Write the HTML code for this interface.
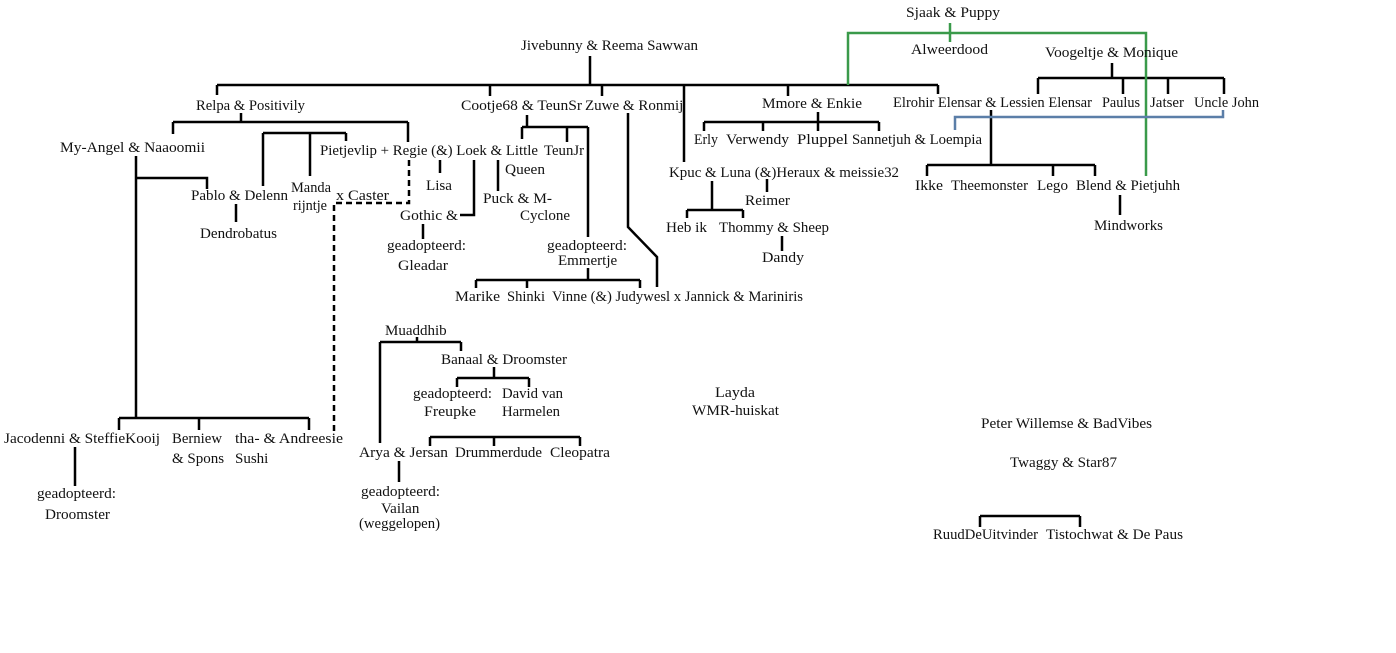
<!DOCTYPE html>
<html><head><meta charset="utf-8"><style>
html,body{margin:0;padding:0;background:#fff;}
svg{display:block;}
text{font-family:"Liberation Serif",serif;font-size:15px;fill:#111;}
</style></head><body>
<svg width="1396" height="653" viewBox="0 0 1396 653" xmlns="http://www.w3.org/2000/svg">
<g fill="none" stroke="#000" stroke-width="2.5">
<path d="M590 56V85M217 85H938M217 85V95M490 85V96M602 85V96M684 85V162M788 85V96M938 85V94"/>
<path d="M241 113V122M173 122H408M173 122V134M408 122V142"/>
<path d="M263 133H346M263 133V186M310 133V176M346 133V141"/>
<path d="M136 156V418M136 178H207V189M236 204V222"/>
<path d="M119 418H309M119 418V430M199 418V430M309 418V430M75 447V486"/>
<path d="M527 115V127M522 127H588M522 127V139M567 127V142M588 127V237"/>
<path d="M474 160V215H460M423 224V239M440 160V173M498 160V191"/>
<path d="M588 268V280M476 280H640M476 280V288M527 280V288M640 280V288"/>
<path d="M628 113V227L657 257V287"/>
<path d="M818 112V122M704 122H879M704 122V131M763 122V131M818 122V131M879 122V131"/>
<path d="M712 181V210M687 210H743M687 210V218M743 210V218M767 179V192M782 236V251"/>
<path d="M1112 63V78M1038 78H1224M1038 78V94M1123 78V94M1168 78V94M1224 78V94"/>
<path d="M991 110V165M927 165H1095M927 165V176M1053 165V176M1095 165V176M1120 195V215"/>
<path d="M417 337V342M380 342H461M461 342V351M380 342V443"/>
<path d="M494 367V378M457 378H529M457 378V387M529 378V387"/>
<path d="M430 437H580M430 437V446M494 437V446M580 437V446M399 461V482"/>
<path d="M980 516H1080M980 516V527M1080 516V527"/>
</g>
<path d="M409 160V203H334V432" fill="none" stroke="#000" stroke-width="2.5" stroke-dasharray="6,4"/>
<path d="M848 85V33H1146V176M950 23V42" fill="none" stroke="#3a9a4a" stroke-width="2.5"/>
<path d="M955 130V117H1223V110" fill="none" stroke="#5b7ea8" stroke-width="2.5"/>

<g>
<text x="906" y="17" textLength="94" lengthAdjust="spacingAndGlyphs">Sjaak &amp; Puppy</text>
<text x="911" y="54" textLength="77" lengthAdjust="spacingAndGlyphs">Alweerdood</text>
<text x="521" y="50" textLength="177" lengthAdjust="spacingAndGlyphs">Jivebunny &amp; Reema Sawwan</text>
<text x="1045" y="57" textLength="133" lengthAdjust="spacingAndGlyphs">Voogeltje &amp; Monique</text>
<text x="196" y="110" textLength="109" lengthAdjust="spacingAndGlyphs">Relpa &amp; Positivily</text>
<text x="461" y="110" textLength="121" lengthAdjust="spacingAndGlyphs">Cootje68 &amp; TeunSr</text>
<text x="585" y="110">Zuwe &amp; Ronmij</text>
<text x="762" y="108" textLength="100" lengthAdjust="spacingAndGlyphs">Mmore &amp; Enkie</text>
<text x="893" y="107" textLength="199" lengthAdjust="spacingAndGlyphs">Elrohir Elensar &amp; Lessien Elensar</text>
<text x="1102" y="107" textLength="38" lengthAdjust="spacingAndGlyphs">Paulus</text>
<text x="1150" y="107" textLength="34" lengthAdjust="spacingAndGlyphs">Jatser</text>
<text x="1194" y="107" textLength="65" lengthAdjust="spacingAndGlyphs">Uncle John</text>
<text x="60" y="152" textLength="145" lengthAdjust="spacingAndGlyphs">My-Angel  &amp; Naaoomii</text>
<text x="320" y="155" textLength="218" lengthAdjust="spacingAndGlyphs">Pietjevlip + Regie (&amp;) Loek &amp; Little</text>
<text x="544" y="155" textLength="40" lengthAdjust="spacingAndGlyphs">TeunJr</text>
<text x="505" y="174" textLength="40" lengthAdjust="spacingAndGlyphs">Queen</text>
<text x="694" y="144" textLength="24" lengthAdjust="spacingAndGlyphs">Erly</text>
<text x="726" y="144" textLength="63" lengthAdjust="spacingAndGlyphs">Verwendy</text>
<text x="797" y="144" textLength="51" lengthAdjust="spacingAndGlyphs">Pluppel</text>
<text x="852" y="144" textLength="130" lengthAdjust="spacingAndGlyphs">Sannetjuh &amp; Loempia</text>
<text x="669" y="177" textLength="230" lengthAdjust="spacingAndGlyphs">Kpuc &amp; Luna (&amp;)Heraux &amp; meissie32</text>
<text x="745" y="205" textLength="45" lengthAdjust="spacingAndGlyphs">Reimer</text>
<text x="666" y="232" textLength="41" lengthAdjust="spacingAndGlyphs">Heb ik</text>
<text x="719" y="232" textLength="110" lengthAdjust="spacingAndGlyphs">Thommy &amp; Sheep</text>
<text x="762" y="262" textLength="42" lengthAdjust="spacingAndGlyphs">Dandy</text>
<text x="426" y="190" textLength="26" lengthAdjust="spacingAndGlyphs">Lisa</text>
<text x="191" y="200" textLength="97" lengthAdjust="spacingAndGlyphs">Pablo &amp; Delenn</text>
<text x="291" y="192" textLength="40" lengthAdjust="spacingAndGlyphs">Manda</text>
<text x="293" y="210" textLength="34" lengthAdjust="spacingAndGlyphs">rijntje</text>
<text x="336" y="200" textLength="53" lengthAdjust="spacingAndGlyphs">x Caster</text>
<text x="200" y="238" textLength="77" lengthAdjust="spacingAndGlyphs">Dendrobatus</text>
<text x="483" y="203" textLength="69" lengthAdjust="spacingAndGlyphs">Puck &amp; M-</text>
<text x="520" y="220" textLength="50" lengthAdjust="spacingAndGlyphs">Cyclone</text>
<text x="400" y="220" textLength="58" lengthAdjust="spacingAndGlyphs">Gothic &amp;</text>
<text x="387" y="250" textLength="79" lengthAdjust="spacingAndGlyphs">geadopteerd:</text>
<text x="398" y="270" textLength="50" lengthAdjust="spacingAndGlyphs">Gleadar</text>
<text x="547" y="250" textLength="80" lengthAdjust="spacingAndGlyphs">geadopteerd:</text>
<text x="558" y="265">Emmertje</text>
<text x="455" y="301" textLength="45" lengthAdjust="spacingAndGlyphs">Marike</text>
<text x="507" y="301" textLength="38" lengthAdjust="spacingAndGlyphs">Shinki</text>
<text x="552" y="301" textLength="251" lengthAdjust="spacingAndGlyphs">Vinne (&amp;) Judywesl x Jannick &amp; Mariniris</text>
<text x="915" y="190" textLength="28" lengthAdjust="spacingAndGlyphs">Ikke</text>
<text x="951" y="190" textLength="77" lengthAdjust="spacingAndGlyphs">Theemonster</text>
<text x="1037" y="190" textLength="31" lengthAdjust="spacingAndGlyphs">Lego</text>
<text x="1076" y="190" textLength="104" lengthAdjust="spacingAndGlyphs">Blend &amp; Pietjuhh</text>
<text x="1094" y="230" textLength="69" lengthAdjust="spacingAndGlyphs">Mindworks</text>
<text x="385" y="335">Muaddhib</text>
<text x="441" y="364" textLength="126" lengthAdjust="spacingAndGlyphs">Banaal &amp; Droomster</text>
<text x="413" y="398" textLength="79" lengthAdjust="spacingAndGlyphs">geadopteerd:</text>
<text x="424" y="416" textLength="52" lengthAdjust="spacingAndGlyphs">Freupke</text>
<text x="502" y="398" textLength="61" lengthAdjust="spacingAndGlyphs">David van</text>
<text x="502" y="416" textLength="58" lengthAdjust="spacingAndGlyphs">Harmelen</text>
<text x="359" y="457" textLength="89" lengthAdjust="spacingAndGlyphs">Arya &amp; Jersan</text>
<text x="455" y="457" textLength="87" lengthAdjust="spacingAndGlyphs">Drummerdude</text>
<text x="550" y="457" textLength="60" lengthAdjust="spacingAndGlyphs">Cleopatra</text>
<text x="361" y="496" textLength="79" lengthAdjust="spacingAndGlyphs">geadopteerd:</text>
<text x="381" y="513">Vailan</text>
<text x="359" y="528" textLength="81" lengthAdjust="spacingAndGlyphs">(weggelopen)</text>
<text x="4" y="443" textLength="156" lengthAdjust="spacingAndGlyphs">Jacodenni &amp; SteffieKooij</text>
<text x="172" y="443" textLength="50" lengthAdjust="spacingAndGlyphs">Berniew</text>
<text x="172" y="463">&amp; Spons</text>
<text x="235" y="443" textLength="108" lengthAdjust="spacingAndGlyphs">tha- &amp; Andreesie</text>
<text x="235" y="463">Sushi</text>
<text x="37" y="498" textLength="79" lengthAdjust="spacingAndGlyphs">geadopteerd:</text>
<text x="45" y="519" textLength="65" lengthAdjust="spacingAndGlyphs">Droomster</text>
<text x="715" y="397" textLength="40" lengthAdjust="spacingAndGlyphs">Layda</text>
<text x="692" y="415" textLength="87" lengthAdjust="spacingAndGlyphs">WMR-huiskat</text>
<text x="981" y="428" textLength="171" lengthAdjust="spacingAndGlyphs">Peter Willemse &amp; BadVibes</text>
<text x="1010" y="467" textLength="107" lengthAdjust="spacingAndGlyphs">Twaggy &amp; Star87</text>
<text x="933" y="539" textLength="105" lengthAdjust="spacingAndGlyphs">RuudDeUitvinder</text>
<text x="1046" y="539" textLength="137" lengthAdjust="spacingAndGlyphs">Tistochwat &amp; De Paus</text>
</g>
</svg>
</body></html>
